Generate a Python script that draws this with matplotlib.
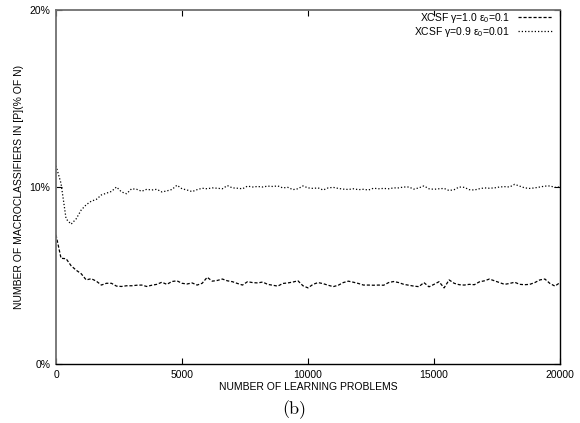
import numpy as np
import matplotlib
matplotlib.use("Agg")
import matplotlib.pyplot as plt

problems = list(range(0, 20001, 200))

# XCSF gamma=1.0, eps0=0.1 (dashed)
g10 = [7.3, 5.97, 5.95, 5.55, 5.3, 5.1, 4.75, 4.82, 4.68, 4.46,
       4.56, 4.56, 4.4, 4.38, 4.42, 4.42, 4.45, 4.46, 4.38, 4.45,
       4.5, 4.62, 4.5, 4.66, 4.7, 4.56, 4.52, 4.58, 4.46, 4.56,
       4.9, 4.68, 4.72, 4.8, 4.7, 4.65, 4.55, 4.46, 4.65, 4.6,
       4.58, 4.63, 4.5, 4.45, 4.4, 4.55, 4.58, 4.63, 4.7, 4.42,
       4.3, 4.5, 4.6, 4.54, 4.45, 4.37, 4.45, 4.6, 4.68, 4.62,
       4.55, 4.46, 4.46, 4.45, 4.46, 4.45, 4.6, 4.66, 4.6, 4.5,
       4.45, 4.4, 4.37, 4.6, 4.36, 4.5, 4.65, 4.3, 4.75, 4.56,
       4.48, 4.46, 4.5, 4.48, 4.64, 4.7, 4.8, 4.7, 4.6, 4.5,
       4.55, 4.62, 4.5, 4.48, 4.5, 4.6, 4.75, 4.8, 4.55, 4.4,
       4.6]

# XCSF gamma=0.9, eps0=0.01 (dotted)
g09 = [11.2, 10.2, 8.2, 7.9, 8.2, 8.7, 9.0, 9.2, 9.3, 9.55,
       9.65, 9.75, 10.0, 9.72, 9.62, 9.9, 9.87, 9.76, 9.87, 9.83,
       9.87, 9.72, 9.78, 9.86, 10.1, 9.9, 9.83, 9.74, 9.85, 9.93,
       9.9, 9.95, 9.93, 9.9, 10.08, 9.95, 9.93, 9.9, 10.05, 10.0,
       10.03, 10.0, 10.05, 10.03, 10.06, 9.95, 9.98, 9.85, 9.9, 10.06,
       9.95, 9.92, 9.95, 9.83, 9.95, 9.98, 9.92, 9.88, 9.86, 9.9,
       9.85, 9.87, 9.83, 9.93, 9.9, 9.92, 9.9, 9.95, 9.95, 10.0,
       10.0, 9.88, 9.95, 10.06, 9.9, 9.87, 9.9, 9.92, 9.8, 9.85,
       10.0, 9.98, 9.85, 9.83, 9.9, 9.95, 9.93, 9.95, 10.0, 10.02,
       10.0, 10.15, 10.05, 9.95, 9.92, 9.95, 10.0, 10.05, 10.06, 9.98,
       10.0]

xticks = [0, 5000, 10000, 15000, 20000]
yticks = [0, 10, 20]
ytick_labels = ["0%", "10%", "20%"]
labels = [r"XCSF $\gamma$=1.0 $\epsilon_0$=0.1", r"XCSF $\gamma$=0.9 $\epsilon_0$=0.01"]

plt.rcParams['font.family'] = ['Liberation Sans', 'DejaVu Sans']
plt.rcParams['mathtext.fontset'] = 'custom'
plt.rcParams['mathtext.rm'] = 'Liberation Sans'
plt.rcParams['mathtext.it'] = 'Liberation Sans'

fig = plt.figure(figsize=(5.8, 4.23), dpi=100)
ax = fig.add_axes([56/580, 1-364/423, (560-56)/580, (364-10)/423])

ax.plot(problems, g10, color='black', lw=0.9, linestyle=(0, (2.5, 1.5)), label=labels[0])
ax.plot(problems, g09, color='black', lw=0.9, linestyle=(0, (1, 1.6)), label=labels[1])

ax.set_xlim(0, 20000)
ax.set_ylim(0, 20)
ax.set_xticks(xticks)
ax.set_xticklabels([str(t) for t in xticks])
ax.set_yticks(yticks)
ax.set_yticklabels(ytick_labels)
ax.tick_params(direction='in', length=4, width=0.8, labelsize=7.5, top=True, right=True, pad=4)

for s in ['left', 'top']:
    ax.spines[s].set_color('#707070')
    ax.spines[s].set_linewidth(1.3)
for s in ['bottom', 'right']:
    ax.spines[s].set_color('black')
    ax.spines[s].set_linewidth(1.0)

ax.set_xlabel("NUMBER OF LEARNING PROBLEMS", fontsize=7.5, labelpad=2)
ax.set_ylabel("NUMBER OF MACROCLASSIFIERS IN [P](% OF N)", fontsize=7.5, labelpad=4)

leg = ax.legend(loc='upper right', bbox_to_anchor=(0.984, 0.997), frameon=False,
                markerfirst=False, fontsize=7.5,
                handlelength=3.3, handletextpad=0.7, labelspacing=0.0,
                borderaxespad=0.0, borderpad=0.0)

fig.text(294/580, 1-410/423, "(b)", family=['cmr10', 'DejaVu Serif'], fontsize=13,
         ha='center', va='center')

fig.savefig("out.png", dpi=100)
